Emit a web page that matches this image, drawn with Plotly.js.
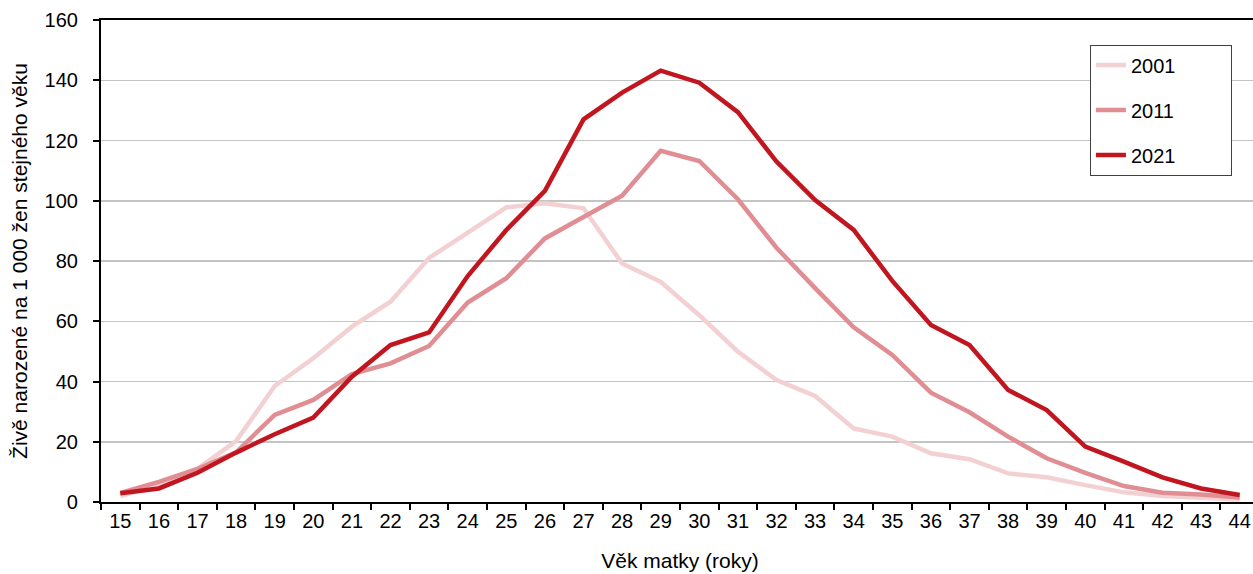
<!DOCTYPE html>
<html>
<head>
<meta charset="utf-8">
<script src="https://cdn.plot.ly/plotly-3.0.1.min.js"></script>
<style>
html,body{margin:0;padding:0;overflow:hidden;background:#fff;}
#chart{width:1260px;height:574px;}
</style>
</head>
<body>
<div id="chart"></div>
<script>
const ages = ["15","16","17","18","19","20","21","22","23","24","25","26","27","28","29","30","31","32","33","34","35","36","37","38","39","40","41","42","43","44"];
const y2001 = [2.0,5.5,11.0,20.2,38.5,47.7,58.2,66.5,81.0,89.4,97.8,99.2,97.5,79.2,73.1,62.0,49.9,40.5,35.2,24.4,21.7,16.2,14.2,9.5,8.2,5.6,3.2,2.0,1.3,0.8];
const y2011 = [3.0,6.7,11.0,16.5,28.9,33.9,42.5,46.0,51.8,66.2,74.3,87.5,94.6,101.7,116.6,113.2,100.5,84.4,71.0,58.0,48.8,36.3,29.8,21.7,14.5,9.7,5.3,3.1,2.5,1.5];
const y2021 = [2.9,4.5,9.7,16.4,22.5,28.0,41.6,52.1,56.3,75.0,90.3,103.3,127.0,135.9,143.2,139.2,129.4,113.0,100.2,90.3,73.4,58.8,52.1,37.2,30.5,18.4,13.4,8.2,4.5,2.3];
const yTicks = [0,20,40,60,80,100,120,140,160];
const seriesNames = ["2001","2011","2021"];

const font = {family: "Liberation Sans, Arial, sans-serif", size: 20, color: "#000"};
const titleFont = {family: "Liberation Sans, Arial, sans-serif", size: 21, color: "#000"};
const pad = "\u00a0".repeat(9);

function tr(name, y, color, grp){
  return {x: ages, y: y, name: name + pad, type: "scatter", mode: "lines",
    line: {color: color, width: 4.5, shape: "linear"}, legendgroup: grp};
}

const data = [
  tr(seriesNames[0], y2001, "#F3D0D1", "a"),
  tr(seriesNames[1], y2011, "#E08E93", "b"),
  tr(seriesNames[2], y2021, "#C1161F", "c")
];

const layout = {
  width: 1260, height: 574,
  margin: {l: 101, r: 1, t: 20, b: 72},
  paper_bgcolor: "#fff", plot_bgcolor: "#fff",
  font: font,
  showlegend: true,
  legend: {x: 0.854, y: 0.949, xanchor: "left", yanchor: "top",
    bordercolor: "#404040", borderwidth: 1, bgcolor: "#fff",
    font: font, tracegroupgap: 16, traceorder: "grouped"},
  xaxis: {type: "category", range: [-0.5, 29.5], tickson: "boundaries",
    ticks: "outside", ticklen: 6, tickwidth: 2, tickcolor: "#000",
    showline: true, linecolor: "#000", linewidth: 2, mirror: true,
    showgrid: false, zeroline: false, tickfont: font,
    title: {text: "Věk matky (roky)", font: titleFont, standoff: 22}},
  yaxis: {range: [0, 160], tickvals: yTicks, ticktext: yTicks.map(v => v + "\u00a0\u00a0"),
    ticks: "outside", ticklen: 6, tickwidth: 2, tickcolor: "#000",
    showline: true, linecolor: "#000", linewidth: 2, mirror: true,
    showgrid: true, gridcolor: "#C4C4C4", gridwidth: 1.5, zeroline: false,
    tickfont: font,
    title: {text: "Živě narozené na 1 000 žen stejného věku", font: titleFont, standoff: 11}}
};

Plotly.newPlot("chart", data, layout, {displayModeBar: false, staticPlot: true});
</script>
</body>
</html>
